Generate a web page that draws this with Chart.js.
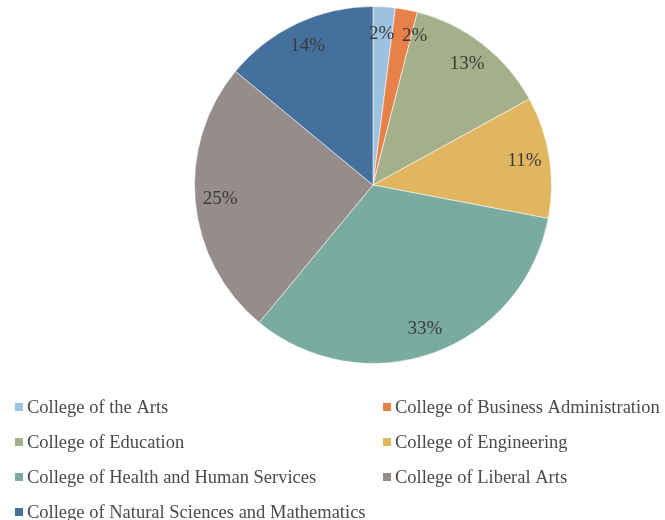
<!DOCTYPE html>
<html>
<head>
<meta charset="utf-8">
<script src="https://cdn.jsdelivr.net/npm/chart.js@4.4.1/dist/chart.umd.min.js"></script>
<style>
  html, body { margin: 0; padding: 0; background: #fff; }
  #wrap { width: 665px; height: 520px; }
</style>
</head>
<body>
<div id="wrap"><canvas id="pie"></canvas></div>
<script>
const colleges = [
  "College of the Arts",
  "College of Business Administration",
  "College of Education",
  "College of Engineering",
  "College of Health and Human Services",
  "College of Liberal Arts",
  "College of Natural Sciences and Mathematics"
];
const shares = [2, 2, 13, 11, 33, 25, 14];
const colors = ["#9cc2e2", "#e8804a", "#a5b08a", "#e1b660", "#79ab9f", "#978c8c", "#43709c"];

const serif = "'Liberation Serif', 'Times New Roman', serif";

// percentage text inside each slice
const sliceLabels = {
  id: "sliceLabels",
  afterDatasetsDraw(chart, args, opts) {
    const ctx = chart.ctx;
    const meta = chart.getDatasetMeta(0);
    const total = shares.reduce((a, b) => a + b, 0);
    ctx.save();
    ctx.font = "19px " + serif;
    ctx.fillStyle = "#3a3a3a";
    ctx.textAlign = "center";
    ctx.textBaseline = "middle";
    meta.data.forEach((arc, i) => {
      const p = arc.getProps(["x", "y", "startAngle", "endAngle", "outerRadius"], true);
      const mid = (p.startAngle + p.endAngle) / 2;
      const d = p.outerRadius * opts.dist;
      const nx = (opts.nudge[i] || [0, 0]);
      const tx = p.x + Math.cos(mid) * d + nx[0];
      const ty = p.y + Math.sin(mid) * d + nx[1];
      ctx.fillText(Math.round(shares[i] / total * 100) + "%", tx, ty);
    });
    ctx.restore();
  }
};

// two column legend under the pie
const gridLegend = {
  id: "gridLegend",
  afterDraw(chart, args, opts) {
    const ctx = chart.ctx;
    ctx.save();
    ctx.font = "18.5px " + serif;
    ctx.textBaseline = "middle";
    chart.data.labels.forEach((lab, i) => {
      const col = i % 2, row = Math.floor(i / 2);
      const x = opts.cols[col];
      const y = opts.top + row * opts.rowGap;
      ctx.fillStyle = colors[i];
      ctx.fillRect(x, y - 4, 8, 8);
      ctx.fillStyle = "#4a4a4a";
      ctx.fillText(lab, x + 12, y + 1);
    });
    ctx.restore();
  }
};

new Chart(document.getElementById("pie"), {
  type: "pie",
  data: {
    labels: colleges,
    datasets: [{
      data: shares,
      backgroundColor: colors,
      borderColor: "rgba(255,255,255,0.55)",
      borderWidth: 1
    }]
  },
  options: {
    responsive: true,
    maintainAspectRatio: false,
    animation: false,
    layout: { padding: { top: 6, bottom: 156, left: 81, right: 0 } },
    plugins: {
      legend: { display: false },
      tooltip: { enabled: false },
      sliceLabels: { dist: 0.86, nudge: [[-1, 2], [13, 2]] },
      gridLegend: { cols: [15, 383], top: 407, rowGap: 35 }
    }
  },
  plugins: [sliceLabels, gridLegend]
});
</script>
</body>
</html>
